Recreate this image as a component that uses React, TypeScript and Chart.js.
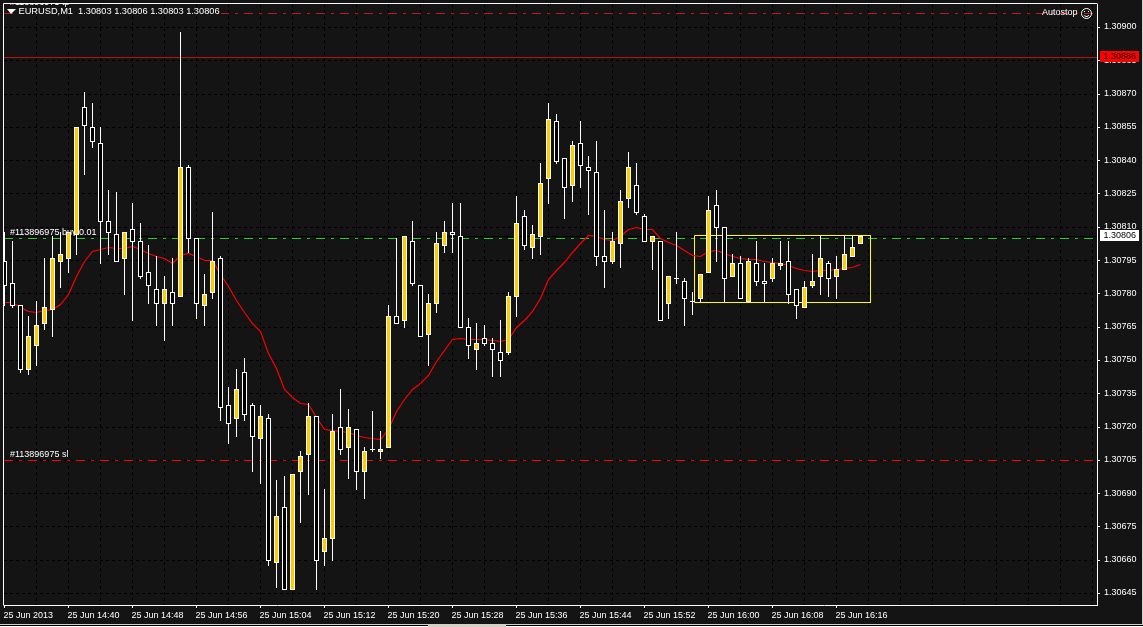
import React, { useEffect, useRef } from "react";
import { Chart, registerables } from "chart.js";

Chart.register(...registerables);

// All prices are stored as points above 1.30000 (1 point = 0.00001).
const highPts = [
  808,804,775,770,777,796,806,808,808,855,
  871,866,855,827,826,808,821,812,802,797,
  788,796,898,838,805,789,817,797,738,746,
  751,731,730,726,696,698,699,709,731,725,
  692,726,737,728,719,711,727,718,775,805,
  806,813,784,780,808,813,821,821,769,767,
  766,760,768,781,824,818,811,839,866,861,
  841,849,858,842,849,818,808,827,844,839,
  816,806,804,788,808,787,781,789,824,827,
  810,798,797,796,804,794,796,804,804,782,
  786,798,806,795,797,806,806,806,
];
const lowPts = [
  775,774,745,744,748,764,761,783,790,798,
  834,846,794,798,795,780,768,787,776,766,
  759,766,779,799,769,766,778,723,713,716,
  723,700,695,658,648,647,647,677,690,647,
  658,660,708,697,692,688,709,706,711,767,
  765,784,761,748,772,799,799,765,751,746,
  757,743,743,753,770,800,796,798,821,839,
  814,822,828,816,793,783,794,792,819,816,
  804,791,768,769,785,766,771,777,790,795,
  777,788,778,777,784,777,786,791,776,769,
  774,783,780,779,778,791,797,803,
];
const openPts = [
  795,785,775,746,757,767,773,795,796,807,
  864,855,848,813,807,796,809,804,790,782,
  776,781,779,837,805,775,781,796,730,724,
  745,730,715,724,659,684,647,700,708,725,
  664,670,720,711,719,700,710,709,711,770,
  768,804,784,762,776,802,808,806,765,755,
  760,758,754,754,779,815,801,806,832,858,
  841,829,848,837,835,797,795,803,823,829,
  815,804,804,776,787,786,777,778,790,820,
  810,788,794,777,794,786,787,793,795,782,
  774,784,788,794,788,791,797,803,
];
const closePts = [
  784,775,746,761,766,774,796,798,808,855,
  856,849,813,808,795,808,804,788,784,776,
  782,776,837,805,776,780,795,729,722,737,
  726,716,725,660,680,647,699,707,725,660,
  670,718,710,720,700,709,710,710,770,767,
  806,785,761,776,803,808,807,765,757,758,
  758,755,750,779,812,802,807,830,859,840,
  828,847,838,836,797,795,804,822,837,817,
  804,806,768,788,787,778,777,789,818,810,
  787,794,778,795,786,785,794,794,780,775,
  783,786,796,787,791,798,801,806,
];
const maPts = [
  776.0,776.0,773.9,772.1,771.8,772.7,773.1,775.4,779.5,787.7,
  794.5,799.0,800.2,800.7,800.5,800.5,801.2,800.1,798.0,796.8,
  795.9,793.8,797.5,798.3,796.8,795.0,795.0,788.5,783.1,777.2,
  771.4,766.8,763.0,753.2,746.5,737.1,733.3,730.7,730.2,724.3,
  719.1,718.4,717.9,717.6,716.1,715.4,714.9,714.5,718.7,726.8,
  732.4,736.9,739.4,743.0,749.4,754.7,759.5,760.0,759.5,759.5,
  759.5,758.9,758.5,759.5,764.9,768.2,772.0,778.0,786.3,790.4,
  794.2,798.7,802.8,806.2,805.8,804.3,804.0,805.8,809.1,809.7,
  809.1,809.1,805.0,803.2,801.9,799.5,797.2,796.8,799.0,799.5,
  798.3,796.8,796.0,795.7,795.3,794.5,794.2,793.8,793.0,791.2,
  790.3,790.2,790.4,790.6,790.8,791.2,791.8,793.3,
];
const xTickLabels = [
  "25 Jun 2013","25 Jun 14:40","25 Jun 14:48","25 Jun 14:56","25 Jun 15:04",
  "25 Jun 15:12","25 Jun 15:20","25 Jun 15:28","25 Jun 15:36","25 Jun 15:44",
  "25 Jun 15:52","25 Jun 16:00","25 Jun 16:08","25 Jun 16:16",
];
const yTickPts = [900,885,870,855,840,825,810,795,780,765,750,735,720,705,690,675,660,645];
const tpLevelPts = 906.4;
const sellStopLevelPts = 886.5;
const bidLevelPts = 806;
const buyLevelPts = 805;
const slLevelPts = 705;
const boxPts = { top: 806.4, bottom: 776, from: 86.25, to: 108.25 };
const titleText = "EURUSD,M1  1.30803 1.30806 1.30803 1.30806";
const sellStopLabel = "1.30886";
const bidLabel = "1.30806";

const toPrice = (p: number) => 1.3 + p / 1e5;

const BG = "#141414";
const GOLD = "#ffcc00";
const X_MIN = -0.0625;
const X_MAX = 136.5625;
const FONT = '9px "Liberation Sans"';

const level = (p: number, color: string, dash: number[], order: number) => ({
  type: "line" as const,
  data: [{ x: X_MIN, y: toPrice(p) }, { x: X_MAX, y: toPrice(p) }],
  borderColor: color,
  borderWidth: 1,
  borderDash: dash,
  pointRadius: 0,
  order,
});

const snapPlugin = {
  id: "snap",
  afterDatasetsUpdate(chart: any) {
    for (const meta of chart.getSortedVisibleDatasetMetas()) {
      for (const el of meta.data) {
        if (meta.type === "bar") {
          const a = Math.min(el.y, el.base);
          const b = Math.max(el.y, el.base);
          el.x = Math.floor(el.x) + 0.5;
          el.y = Math.round(a);
          el.base = Math.round(b) + 1;
        } else {
          el.y = Math.floor(el.y) + 0.5;
        }
      }
    }
  },
};

const paintPlugin = {
  id: "paint",
  beforeDraw(chart: any) {
    const { ctx, width, height } = chart;
    ctx.save();
    ctx.fillStyle = BG;
    ctx.fillRect(0, 0, width, height);
    ctx.fillStyle = "#d4d0c8";
    ctx.fillRect(0, 624, width, 3);
    ctx.fillRect(1142, 0, 1, height);
    ctx.fillStyle = "#000";
    ctx.fillRect(0, 625, 428, 1);
    ctx.fillRect(506, 625, width - 506, 1);
    ctx.fillStyle = "#fff";
    ctx.fillRect(0, 626, 428, 1);
    ctx.fillRect(506, 626, width - 506, 1);
    ctx.restore();
  },
  // text that sits behind the candles
  beforeDatasetsDraw(chart: any) {
    const { ctx, chartArea, scales } = chart;
    const y = scales.y;
    ctx.save();
    ctx.beginPath();
    ctx.rect(chartArea.left, chartArea.top, chartArea.right - chartArea.left, chartArea.bottom - chartArea.top);
    ctx.clip();
    ctx.font = FONT;
    ctx.fillStyle = "#fff";
    ctx.textBaseline = "middle";
    ctx.fillText("#113896975 tp", 10, y.getPixelForValue(toPrice(tpLevelPts)) - 11);
    ctx.fillText("#113896975 buy 0.01", 10, y.getPixelForValue(toPrice(buyLevelPts)) - 6);
    ctx.fillText("#113896975 sl", 10, y.getPixelForValue(toPrice(slLevelPts)) - 6);
    ctx.restore();
  },
  afterDraw(chart: any) {
    const { ctx, chartArea, scales } = chart;
    const y = scales.y;
    ctx.save();
    // frame: top and left edges (right and bottom come from the axes)
    ctx.strokeStyle = "#fff";
    ctx.lineWidth = 1;
    ctx.beginPath();
    ctx.moveTo(3.5, chartArea.bottom + 0.5);
    ctx.lineTo(3.5, 3.5);
    ctx.lineTo(chartArea.right + 0.5, 3.5);
    ctx.stroke();

    // title
    ctx.font = '9.25px "Liberation Sans"';
    ctx.textBaseline = "middle";
    ctx.textAlign = "left";
    const tw = ctx.measureText(titleText).width;
    ctx.fillStyle = BG;
    ctx.fillRect(18, 7, tw + 2, 9);
    ctx.fillStyle = "#fff";
    ctx.fillText(titleText, 18.5, 11.5);
    ctx.beginPath();
    ctx.moveTo(7, 9);
    ctx.lineTo(16, 9);
    ctx.lineTo(11, 14);
    ctx.closePath();
    ctx.fill();

    // autostop
    ctx.font = FONT;
    ctx.fillText("Autostop", 1042, 13);
    ctx.beginPath();
    ctx.arc(1086.5, 13.5, 5, 0, Math.PI * 2);
    ctx.stroke();
    ctx.beginPath();
    ctx.arc(1086.5, 13.5, 3, 0.2 * Math.PI, 0.8 * Math.PI);
    ctx.stroke();
    ctx.fillRect(1084, 11, 1, 1);
    ctx.fillRect(1088, 11, 1, 1);

    // price tags
    const tag = (p: number, bg: string, text: string) => {
      const py = Math.floor(y.getPixelForValue(toPrice(p)));
      ctx.fillStyle = bg;
      ctx.fillRect(1100, py - 6, 39, 11);
      ctx.fillStyle = "#000";
      ctx.font = FONT;
      ctx.fillText(text, 1103.5, py);
    };
    tag(sellStopLevelPts, "#ff0000", sellStopLabel);
    tag(bidLevelPts, "#ffffff", bidLabel);
    ctx.restore();
  },
};

export default function App() {
  const ref = useRef<HTMLCanvasElement | null>(null);
  useEffect(() => {
    const n = openPts.length;
    const idx = Array.from({ length: n }, (_, i) => i);
    const chart = new Chart(ref.current as HTMLCanvasElement, {
      type: "bar",
      data: {
        datasets: [
          level(tpLevelPts, "#c81414", [9, 6, 3, 6], 5),
          level(sellStopLevelPts, "#b81414", [], 5),
          level(bidLevelPts, "#000000", [], 5),
          level(buyLevelPts, "#22cc22", [9, 6, 3, 6], 5),
          level(slLevelPts, "#ff0000", [9, 6, 3, 6], 5),
          {
            type: "line",
            data: [
              { x: boxPts.from, y: toPrice(boxPts.top) },
              { x: boxPts.to, y: toPrice(boxPts.top) },
              { x: boxPts.to, y: toPrice(boxPts.bottom) },
              { x: boxPts.from, y: toPrice(boxPts.bottom) },
              { x: boxPts.from, y: toPrice(boxPts.top) },
            ],
            borderColor: "#ffff00",
            borderWidth: 1,
            pointRadius: 0,
            order: 4,
          },
          {
            type: "line",
            data: idx.map((i) => ({ x: i, y: toPrice(maPts[i]) })),
            borderColor: "#ff0000",
            borderWidth: 1.2,
            pointRadius: 0,
            tension: 0,
            order: 3,
          },
          {
            type: "bar",
            data: idx.map((i) => ({ x: i, y: [toPrice(lowPts[i]), toPrice(highPts[i])] })),
            backgroundColor: "#ffffff",
            borderWidth: 0,
            inflateAmount: 0,
            barThickness: 1,
            grouped: false,
            order: 2,
          },
          {
            type: "bar",
            data: idx.map((i) => ({ x: i, y: [toPrice(openPts[i]), toPrice(closePts[i])] })),
            backgroundColor: idx.map((i) => (closePts[i] > openPts[i] ? GOLD : "#000000")),
            borderColor: "#ffffff",
            borderWidth: 1,
            borderSkipped: false,
            inflateAmount: 0,
            barThickness: 5,
            grouped: false,
            order: 1,
          },
        ] as any,
      },
      options: {
        responsive: false,
        devicePixelRatio: 1,
        animation: false,
        events: [],
        layout: { padding: { left: 4, top: 4, right: 0, bottom: 0 } },
        plugins: { legend: { display: false }, tooltip: { enabled: false }, title: { display: false } },
        scales: {
          x: {
            type: "linear",
            min: X_MIN,
            max: X_MAX,
            offset: false,
            afterBuildTicks: (axis: any) => {
              axis.ticks = Array.from({ length: 35 }, (_, k) => ({ value: k * 4 }));
            },
            afterFit: (axis: any) => {
              axis.height = 22;
              axis.paddingLeft = axis.paddingRight = axis.paddingTop = axis.paddingBottom = 0;
            },
            grid: {
              offset: false,
              tickLength: 3,
              color: (c: any) => (c.tick && c.tick.value === 0 ? "transparent" : "#000000"),
              tickColor: (c: any) =>
                c.tick && c.tick.value % 8 === 0 && c.tick.value <= 104 ? "#ffffff" : "transparent",
            },
            border: { color: "#ffffff", width: 1, dash: [3, 3] },
            ticks: {
              autoSkip: false,
              maxRotation: 0,
              minRotation: 0,
              align: "start",
              labelOffset: -1,
              padding: 2,
              color: "#ffffff",
              font: { family: "Liberation Sans", size: 9 },
              callback: (v: any) => (v % 8 === 0 ? xTickLabels[v / 8] ?? "" : ""),
            },
          },
          y: {
            type: "linear",
            position: "right",
            min: toPrice(639.82),
            max: toPrice(910.59),
            afterBuildTicks: (axis: any) => {
              axis.ticks = yTickPts.map((p) => ({ value: toPrice(p) }));
            },
            afterFit: (axis: any) => {
              axis.width = 46;
              axis.paddingLeft = axis.paddingRight = axis.paddingTop = axis.paddingBottom = 0;
            },
            grid: { tickLength: 3, color: "#000000", tickColor: "#ffffff" },
            border: { color: "#ffffff", width: 1, dash: [3, 3] },
            ticks: {
              autoSkip: false,
              padding: 4,
              labelOffset: -0.5,
              color: "#ffffff",
              font: { family: "Liberation Sans", size: 9 },
              callback: (v: any) => Number(v).toFixed(5),
            },
          },
        },
      } as any,
      plugins: [snapPlugin, paintPlugin],
    } as any);
    return () => chart.destroy();
  }, []);
  return (
    <div style={{ position: "fixed", left: 0, top: 0, width: 1143, height: 627 }}>
      <canvas ref={ref} width={1143} height={627} style={{ display: "block", width: 1143, height: 627 }} />
    </div>
  );
}
